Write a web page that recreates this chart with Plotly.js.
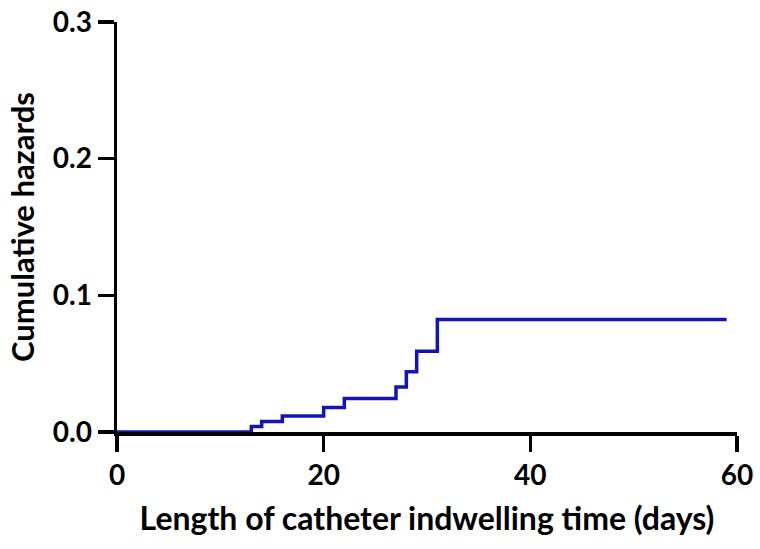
<!DOCTYPE html>
<html>
<head>
<meta charset="utf-8">
<script src="https://cdn.plot.ly/plotly-3.0.1.min.js"></script>
<style>html,body{margin:0;padding:0;background:#fff;}#chart{width:760px;height:549px;}</style>
</head>
<body>
<div id="chart"></div>
<script>
const days = [0, 13, 14, 16, 20, 22, 27, 28, 29, 31, 59];
const hazard = [0, 0.004, 0.0077, 0.0117, 0.018, 0.0246, 0.033, 0.044, 0.059, 0.0824, 0.0824];
const xTicks = [0, 20, 40, 60];
const yTicks = [0, 0.1, 0.2, 0.3];
const yTickText = ['0.0', '0.1', '0.2', '0.3'];

const fontFam = 'Lato, "Open Sans", sans-serif';
const trace = {
  x: days, y: hazard, type: 'scatter', mode: 'lines',
  line: {shape: 'hv', color: '#1414b4', width: 3.5},
  hoverinfo: 'skip', cliponaxis: false
};
const layout = {
  width: 760, height: 549,
  margin: {l: 117, r: 23, t: 22, b: 117},
  paper_bgcolor: '#fff', plot_bgcolor: '#fff',
  showlegend: false,
  font: {family: fontFam, color: '#000', size: 28, weight: 'bold'},
  xaxis: {
    range: [0, 60], tickvals: xTicks, ticktext: xTicks.map(String),
    showline: true, linewidth: 3.5, linecolor: '#000',
    ticks: 'outside', ticklen: 16, tickwidth: 3.5, tickcolor: '#000',
    showgrid: false, zeroline: false,
    tickfont: {family: fontFam, size: 28, weight: 'bold', color: '#000'},
    title: {text: 'Length of catheter indwelling time (days)', standoff: 18,
            font: {family: fontFam, size: 32, weight: 'bold', color: '#000'}}
  },
  yaxis: {
    range: [0, 0.3], tickvals: yTicks, ticktext: yTickText,
    showline: true, linewidth: 3.5, linecolor: '#000',
    ticks: 'outside', ticklen: 16, tickwidth: 3.5, tickcolor: '#000',
    showgrid: false, zeroline: false,
    tickfont: {family: fontFam, size: 28, weight: 'bold', color: '#000'},
    title: {text: 'Cumulative hazards', standoff: 10,
            font: {family: fontFam, size: 31, weight: 'bold', color: '#000'}}
  }
};
Plotly.newPlot('chart', [trace], layout, {staticPlot: true, displayModeBar: false});
</script>
</body>
</html>
